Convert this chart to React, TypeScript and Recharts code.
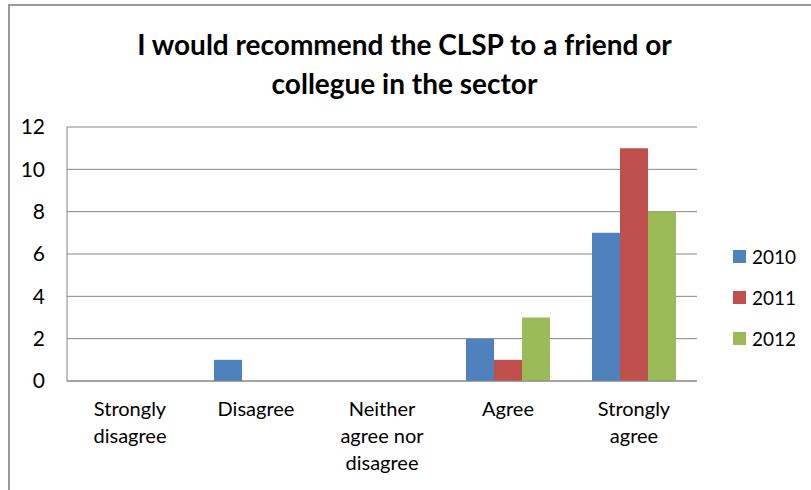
import React from "react";
import { BarChart, Bar, XAxis, YAxis, CartesianGrid, Legend } from "recharts";

const categories = ["Strongly disagree", "Disagree", "Neither agree nor disagree", "Agree", "Strongly agree"];
const tickLines = [["Strongly", "disagree"], ["Disagree"], ["Neither", "agree nor", "disagree"], ["Agree"], ["Strongly", "agree"]];
const series2010 = [0, 1, 0, 2, 7];
const series2011 = [0, 0, 0, 1, 11];
const series2012 = [0, 0, 0, 3, 8];
const yTicks = [0, 2, 4, 6, 8, 10, 12];
const seriesNames = ["2010", "2011", "2012"];
const colors = ["#4F81BD", "#C0504D", "#9BBB59"];

const data = categories.map((c, i) => ({
  name: c,
  "2010": series2010[i],
  "2011": series2011[i],
  "2012": series2012[i],
}));

const FONT = "Lato, 'Noto Sans', sans-serif";

const XTick = (props: any) => {
  const { x, y, index } = props;
  const lines = tickLines[index] || [];
  return (
    <text x={x} y={y} textAnchor="middle" fill="#000" fontSize={20} fontFamily={FONT}>
      {lines.map((l: string, i: number) => (
        <tspan key={i} x={x} y={y + 22 + i * 27} dominantBaseline="middle">
          {l}
        </tspan>
      ))}
    </text>
  );
};

const LegendContent = (props: any) => {
  const payload = props.payload || [];
  return (
    <div style={{ fontFamily: FONT, fontSize: 19, color: "#000" }}>
      {payload.map((p: any, i: number) => (
        <div key={i} style={{ display: "flex", alignItems: "center", height: 41 }}>
          <span style={{ display: "inline-block", width: 13, height: 13, background: p.color, marginRight: 6 }} />
          <span>{p.value}</span>
        </div>
      ))}
    </div>
  );
};

export default function App() {
  return (
    <div style={{ position: "absolute", left: 0, top: 0, width: 811, height: 490, overflow: "hidden", background: "#fff" }}>
      <div
        style={{
          position: "absolute",
          left: 8,
          top: 4,
          width: 900,
          height: 600,
          border: "2px solid #999",
          boxSizing: "border-box",
        }}
      />
      <div
        style={{
          position: "absolute",
          left: 0,
          top: 25,
          width: 809,
          textAlign: "center",
          fontFamily: FONT,
          fontWeight: 700,
          fontSize: 28,
          lineHeight: "39px",
          color: "#000",
        }}
      >
        I would recommend the CLSP to a friend or
        <br />
        collegue in the sector
      </div>
      <div style={{ position: "absolute", left: 0, top: 0 }}>
        <BarChart
          width={811}
          height={490}
          data={data}
          margin={{ top: 127, right: 114, bottom: 0, left: 7 }}
          barCategoryGap="16.67%"
          barGap={0}
        >
          <CartesianGrid vertical={false} stroke="#868686" strokeWidth={1} />
          <XAxis
            dataKey="name"
            tick={<XTick />}
            tickLine={false}
            axisLine={{ stroke: "#868686" }}
            interval={0}
            height={109}
          />
          <YAxis
            width={60}
            domain={[0, 12]}
            ticks={yTicks}
            interval={0}
            tickLine={false}
            tickSize={0}
            tickMargin={22}
            axisLine={{ stroke: "#868686" }}
            tick={{ fill: "#000", fontSize: 21, fontFamily: FONT }}
          />
          <Legend
            layout="vertical"
            align="center"
            verticalAlign="middle"
            content={<LegendContent />}
            wrapperStyle={{ left: 733, top: 236, width: 70 }}
          />
          {seriesNames.map((s, i) => (
            <Bar key={s} dataKey={s} fill={colors[i]} isAnimationActive={false} />
          ))}
        </BarChart>
      </div>
    </div>
  );
}
